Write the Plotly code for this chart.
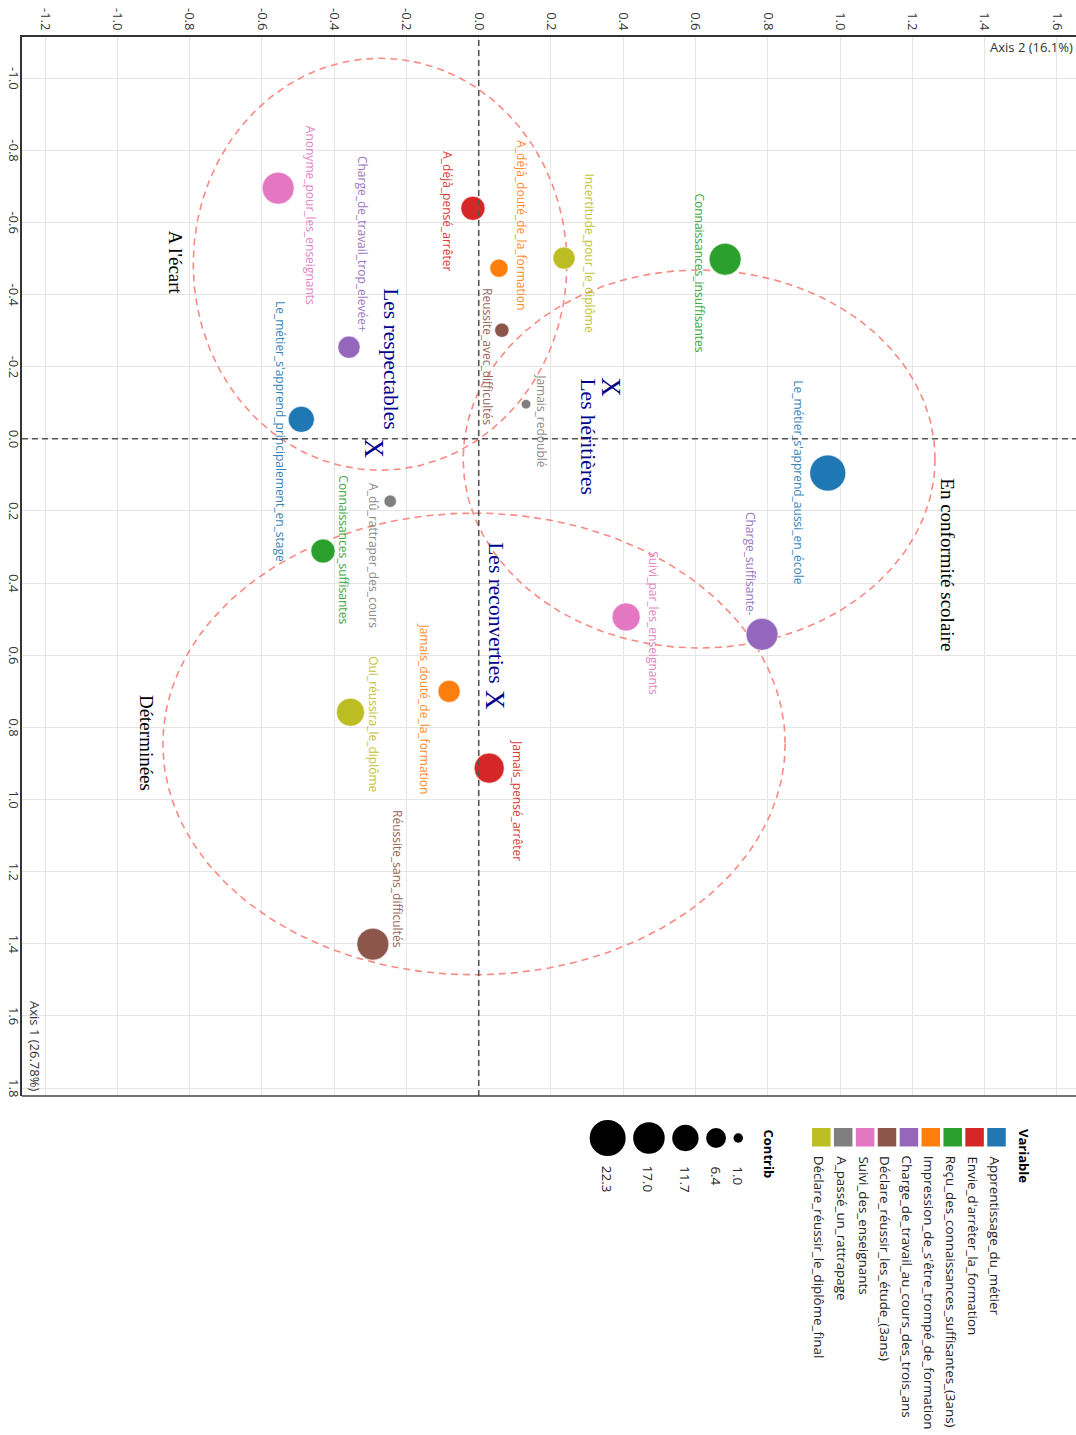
import numpy as np
import plotly.graph_objects as go

# ---------------- data ----------------
categories = [
    "Anonyme_pour_les_enseignants", "A_déjà_pensé_arrêter", "A_déjà_douté_de_la_formation",
    "Incertitude_pour_le_diplôme", "Connaissances_insuffisantes", "Reussite_avec_difficultés",
    "Charge_de_travail_trop_elevée+", "Jamais_redoublé", "Le_métier_s'apprend_principalement_en_stage",
    "Le_métier_s'apprend_aussi_en_école", "A_dû_rattraper_des_cours", "Connaissances_suffisantes",
    "Suivi_par_les_enseignants", "Charge_suffisante-", "Jamais_douté_de_la_formation",
    "Oui_réussira_le_diplôme", "Jamais_pensé_arrêter", "Réussite_sans_difficultés",
]
variables = [
    "Suivi_des_enseignants", "Envie_d'arrêter_la_formation", "Impression_de_s'être_trompé_de_formation",
    "Déclare_réussir_le_diplôme_final", "Reçu_des_connaissances_suffisantes_(3ans)", "Déclare_réussir_les_étude_(3ans)",
    "Charge_de_travail_au_cours_des_trois_ans", "A_passé_un_rattrapage", "Apprentissage_du_métier",
    "Apprentissage_du_métier", "A_passé_un_rattrapage", "Reçu_des_connaissances_suffisantes_(3ans)",
    "Suivi_des_enseignants", "Charge_de_travail_au_cours_des_trois_ans", "Impression_de_s'être_trompé_de_formation",
    "Déclare_réussir_le_diplôme_final", "Envie_d'arrêter_la_formation", "Déclare_réussir_les_étude_(3ans)",
]
axis1 = [-0.695, -0.639, -0.473, -0.501, -0.498, -0.301, -0.254, -0.096, -0.054,
         0.095, 0.173, 0.311, 0.494, 0.542, 0.700, 0.758, 0.913, 1.401]
axis2 = [-0.555, -0.016, 0.056, 0.236, 0.682, 0.064, -0.359, 0.131, -0.491,
         0.966, -0.245, -0.431, 0.408, 0.784, -0.082, -0.355, 0.029, -0.293]
contrib = [17.5, 9.7, 5.3, 8.1, 17.5, 3.0, 8.1, 1.0, 11.4,
           22.3, 2.1, 9.7, 13.3, 17.5, 8.1, 13.3, 15.4, 17.5]

variable_levels = [
    "Apprentissage_du_métier", "Envie_d'arrêter_la_formation", "Reçu_des_connaissances_suffisantes_(3ans)",
    "Impression_de_s'être_trompé_de_formation", "Charge_de_travail_au_cours_des_trois_ans",
    "Déclare_réussir_les_étude_(3ans)", "Suivi_des_enseignants", "A_passé_un_rattrapage",
    "Déclare_réussir_le_diplôme_final",
]
variable_colors = ["#1F77B4", "#D62728", "#2CA02C", "#FF7F0E", "#9467BD",
                   "#8C564B", "#E377C2", "#7F7F7F", "#BCBD22"]
contrib_breaks = [1.0, 6.4, 11.7, 17.0, 22.3]
axis_ticks = [-1.2, -1.0, -0.8, -0.6, -0.4, -0.2, 0.0, 0.2, 0.4, 0.6, 0.8, 1.0, 1.2, 1.4, 1.6, 1.8]

clusters = ["Les respectables", "Les héritières", "Les reconverties"]
cluster_axis1 = [0.026, -0.143, 0.724]
cluster_axis2 = [-0.291, 0.366, 0.045]

groups = ["A l'écart", "En conformité scolaire", "Déterminées"]
group_axis1_center = [-0.484, 0.056, 0.846]
group_axis2_center = [-0.273, 0.610, -0.013]
group_axis1_radius = [0.571, 0.524, 0.640]
group_axis2_radius = [0.517, 0.653, 0.861]

# ---------------- layout helpers (positions of text labels) ----------------
label_pos = [  # (axis2, axis1) centre of each point label
    (-0.466, -0.620), (-0.085, -0.631), (0.120, -0.592), (0.308, -0.514), (0.612, -0.459),
    (0.026, -0.229), (-0.320, -0.540), (0.175, -0.049), (-0.550, -0.019), (0.886, 0.120),
    (-0.292, 0.323), (-0.373, 0.309), (0.485, 0.511), (0.751, 0.347), (-0.149, 0.750),
    (-0.290, 0.791), (0.109, 1.002), (-0.223, 1.221),
]
cluster_label_pos = [(-0.245, -0.223), (0.302, -0.007), (0.048, 0.481)]
group_label_pos = [(-0.837, -0.487), (1.298, 0.350), (-0.920, 0.844)]

W, H = 1076, 1435
L, T, R, B = 22, 37, 0, 339
PW, PH = W - L - R, H - T - B

def px(xp):  # page pixel -> paper
    return (xp - L) / PW

def py(yp):
    return (T + PH - yp) / PH

DMIN, DMAX = 9.5, 36.0
cmin, cmax = min(contrib_breaks), max(contrib_breaks)

def size_px(c):
    return float(np.sqrt(DMIN ** 2 + (c - cmin) / (cmax - cmin) * (DMAX ** 2 - DMIN ** 2)))

color_of = dict(zip(variable_levels, variable_colors))
FONT = "Open Sans"
SERIF = "Liberation Serif"
UI = 13

fig = go.Figure()

# ellipses
t = np.linspace(0, 2 * np.pi, 300)
for i in range(len(groups)):
    fig.add_trace(go.Scatter(
        x=group_axis2_center[i] + group_axis2_radius[i] * np.cos(t),
        y=group_axis1_center[i] + group_axis1_radius[i] * np.sin(t),
        mode="lines", line=dict(color="rgba(248,118,109,0.85)", width=1.6, dash="7px,5px"),
        hoverinfo="skip", showlegend=False))

# points
fig.add_trace(go.Scatter(
    x=axis2, y=axis1, mode="markers",
    marker=dict(size=[size_px(c) for c in contrib],
                color=[color_of[v] for v in variables],
                line=dict(width=0.6, color="white"), opacity=1),
    text=categories, showlegend=False))

annotations = []
for i, name in enumerate(categories):
    lx, ly = label_pos[i]
    annotations.append(dict(x=lx, y=ly, xref="x", yref="y", text=name, showarrow=False,
                            textangle=90, xanchor="center", yanchor="middle",
                            font=dict(family=FONT, size=12, color=color_of[variables[i]]),
                            opacity=0.9))

for i, name in enumerate(clusters):
    annotations.append(dict(x=cluster_axis2[i], y=cluster_axis1[i], xref="x", yref="y", text="X",
                            showarrow=False, textangle=90, xanchor="center", yanchor="middle",
                            font=dict(family=SERIF, size=27, color="#00008B")))
    lx, ly = cluster_label_pos[i]
    annotations.append(dict(x=lx, y=ly, xref="x", yref="y", text=name, showarrow=False,
                            textangle=90, xanchor="center", yanchor="middle",
                            font=dict(family=SERIF, size=21.5, color="#00008B")))

for i, name in enumerate(groups):
    lx, ly = group_label_pos[i]
    annotations.append(dict(x=lx, y=ly, xref="x", yref="y", text=name, showarrow=False,
                            textangle=90, xanchor="center", yanchor="middle",
                            font=dict(family=SERIF, size=19, color="black")))

tick_text = [f"{v:.1f}" for v in axis_ticks]

# left-side tick labels (Axis 1), rotated like the rest of the chart
for v, s in zip(axis_ticks, tick_text):
    if -1.114 <= v <= 1.822:
        annotations.append(dict(x=px(14), y=v, xref="paper", yref="y", text=s, showarrow=False,
                                textangle=90, xanchor="center", yanchor="middle",
                                font=dict(family=FONT, size=UI, color="#333")))

# axis titles
annotations.append(dict(x=px(1075), y=py(47), xref="paper", yref="paper", text="Axis 2 (16.1%)",
                        showarrow=False, xanchor="right", yanchor="middle",
                        font=dict(family=FONT, size=UI, color="#333")))
annotations.append(dict(x=px(35), y=py(1093), xref="paper", yref="paper", text="Axis 1 (26.78%)",
                        showarrow=False, textangle=90, xanchor="center", yanchor="bottom",
                        font=dict(family=FONT, size=UI, color="#333")))

shapes = []
# zero lines
shapes.append(dict(type="line", xref="x", yref="paper", x0=0, x1=0, y0=0, y1=1,
                   line=dict(color="#555", width=1.6, dash="6px,4px")))
shapes.append(dict(type="line", xref="paper", yref="y", x0=0, x1=1, y0=0, y1=0,
                   line=dict(color="#555", width=1.6, dash="6px,4px")))
# bottom frame line
shapes.append(dict(type="line", xref="paper", yref="paper", x0=0, x1=1, y0=0, y1=0,
                   line=dict(color="#444", width=1.5)))

# ---- legend: Variable ----
LEG_FONT = 13.4
annotations.append(dict(x=px(1024), y=py(1127), xref="paper", yref="paper", text="<b>Variable</b>",
                        showarrow=False, textangle=90, xanchor="center", yanchor="top",
                        font=dict(family=FONT, size=UI, color="black")))
sq = 18.5
for i, (lab, col) in enumerate(zip(variable_levels, variable_colors)):
    cx = 996.5 - 21.9 * i
    shapes.append(dict(type="rect", xref="paper", yref="paper",
                       x0=px(cx - sq / 2), x1=px(cx + sq / 2), y0=py(1146.5), y1=py(1128),
                       fillcolor=col, line=dict(width=0)))
    annotations.append(dict(x=px(cx - 1.5), y=py(1154), xref="paper", yref="paper", text=lab,
                            showarrow=False, textangle=90, xanchor="center", yanchor="top",
                            font=dict(family=FONT, size=LEG_FONT, color="#222")))

# ---- legend: Contrib ----
annotations.append(dict(x=px(769), y=py(1127), xref="paper", yref="paper", text="<b>Contrib</b>",
                        showarrow=False, textangle=90, xanchor="center", yanchor="top",
                        font=dict(family=FONT, size=UI, color="black")))
right_edge = 743.0
for b in contrib_breaks:
    d = size_px(b)
    cx = right_edge - d / 2
    right_edge = cx - d / 2 - 7.5
    shapes.append(dict(type="circle", xref="paper", yref="paper",
                       x0=px(cx - d / 2), x1=px(cx + d / 2), y0=py(1138 + d / 2), y1=py(1138 - d / 2),
                       fillcolor="black", line=dict(width=0)))
    annotations.append(dict(x=px(cx), y=py(1164), xref="paper", yref="paper", text=f"{b:.1f}",
                            showarrow=False, textangle=90, xanchor="center", yanchor="top",
                            font=dict(family=FONT, size=LEG_FONT, color="#222")))

fig.update_layout(
    width=W, height=H, margin=dict(l=L, r=R, t=T, b=B, autoexpand=False),
    paper_bgcolor="white", plot_bgcolor="white",
    font=dict(family=FONT),
    annotations=annotations, shapes=shapes, showlegend=False,
    xaxis=dict(range=[-1.264, 1.653], side="top", tickvals=axis_ticks, ticktext=tick_text,
               tickangle=90, showgrid=True, gridcolor="#E5E5E5", gridwidth=1,
               zeroline=False, showline=True, linecolor="#333", linewidth=2, ticks="",
               tickfont=dict(family=FONT, size=UI, color="#333")),
    yaxis=dict(range=[1.822, -1.114], tickvals=axis_ticks, showticklabels=False,
               showgrid=True, gridcolor="#E5E5E5", gridwidth=1,
               zeroline=False, showline=True, linecolor="#333", linewidth=2, ticks=""),
)

# remove the default 8px page margin so the figure fills the window exactly
fig.write_html("out.html", config={"displayModeBar": False},
               post_script="document.body.style.margin='0';document.body.style.overflow='hidden';")
